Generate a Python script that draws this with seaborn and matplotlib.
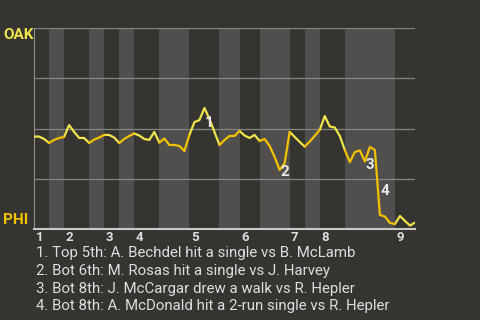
import numpy as np
import pandas as pd
import matplotlib
matplotlib.use("Agg")
import matplotlib.pyplot as plt
import seaborn as sns

# OAK win probability after each plate appearance (index 0 = start)
wp = [0.460, 0.460, 0.448, 0.428, 0.443, 0.453, 0.458, 0.517, 0.483, 0.453,
      0.453, 0.428, 0.445, 0.455, 0.468, 0.468, 0.455, 0.428, 0.448, 0.463,
      0.475, 0.465, 0.448, 0.443, 0.483, 0.430, 0.450, 0.418, 0.418, 0.413,
      0.388, 0.468, 0.532, 0.542, 0.602, 0.547, 0.483, 0.418, 0.443, 0.463,
      0.463, 0.488, 0.465, 0.453, 0.468, 0.438, 0.448, 0.413, 0.358, 0.294,
      0.328, 0.483, 0.458, 0.433, 0.410, 0.435, 0.463, 0.493, 0.562, 0.510,
      0.505, 0.463, 0.393, 0.333, 0.383, 0.391, 0.336, 0.408, 0.393, 0.070,
      0.062, 0.030, 0.025, 0.065, 0.040, 0.017, 0.032]

# plate-appearance index where each half inning starts (last = end of game)
half_bounds = [0, 3, 6, 11, 14, 17, 20, 25, 31, 37, 41, 45, 51, 54, 57, 62, 72, 76]
inning_labels = ["1", "2", "3", "4", "5", "6", "7", "8", "9"]

# key events: index of the plate appearance that ends the event
event_index = [34, 49, 66, 69]
event_labels = ["1", "2", "3", "4"]
event_notes = [
    "1. Top 5th: A. Bechdel hit a single vs B. McLamb",
    "2. Bot 6th: M. Rosas hit a single vs J. Harvey",
    "3. Bot 8th: J. McCargar drew a walk vs R. Hepler",
    "4. Bot 8th: A. McDonald hit a 2-run single vs R. Hepler",
]
teams = ["OAK", "PHI"]

BG = "#353430"
BAND = "#504f4d"
OAK_C = "#efe44c"
PHI_C = "#f2c200"
TXT = "#dedede"

sns.set_theme(style="dark", rc={"axes.facecolor": BG, "figure.facecolor": BG})
plt.rcParams["font.family"] = ["Roboto", "DejaVu Sans"]

rows = []
for h in range(len(half_bounds) - 1):
    side = "top" if h % 2 == 0 else "bot"
    for k in range(half_bounds[h], half_bounds[h + 1] + 1):
        rows.append({"pa": k, "wp": wp[k], "half": h, "side": side})
df = pd.DataFrame(rows)

fig = plt.figure(figsize=(4.8, 3.2), dpi=100, facecolor=BG)
ax = fig.add_axes([34 / 480, (320 - 229) / 320, 381 / 480, 201 / 320])
ax.set_facecolor(BG)

for h in range(1, len(half_bounds) - 1, 2):
    ax.axvspan(half_bounds[h], half_bounds[h + 1], color=BAND, lw=0, zorder=0)

ax.set_yticks([0.25, 0.5, 0.75, 1.0])
ax.yaxis.grid(True, color="#858583", lw=0.9, zorder=1)
ax.xaxis.grid(False)
ax.set_axisbelow(False)

sns.lineplot(data=df, x="pa", y="wp", hue="side", units="half", estimator=None,
             palette={"top": OAK_C, "bot": PHI_C}, legend=False, lw=1.6,
             ax=ax, zorder=3)

ax.set_xlim(half_bounds[0], half_bounds[-1])
ax.set_ylim(0, 1)
ax.set_xlabel("")
ax.set_ylabel("")
ax.tick_params(length=0, labelleft=False, labelbottom=False)
for s in ["top", "right"]:
    ax.spines[s].set_visible(False)
ax.spines["left"].set_color("#8f8f8f")
ax.spines["left"].set_linewidth(0.8)
ax.spines["bottom"].set_color("#c8c8c8")
ax.spines["bottom"].set_linewidth(1.5)

for i, lab in enumerate(inning_labels):
    ax.annotate(lab, xy=(half_bounds[2 * i], 0), xycoords=("data", "axes fraction"),
                xytext=(1.0, -6), textcoords="offset points", ha="left", va="center",
                color=TXT, fontsize=9.5, fontweight="bold")

for k, lab in zip(event_index, event_labels):
    mx = k - 0.5
    my = (wp[k - 1] + wp[k]) / 2
    ax.annotate(lab, xy=(mx, my), xytext=(2.2, -1.2), textcoords="offset points",
                ha="left", va="top", color="#e8e8e8", fontsize=11,
                fontweight="bold", zorder=5)

fig.text(3 / 480, 1 - 35 / 320, teams[0], ha="left", va="center", color=OAK_C,
         fontsize=11, fontweight="bold")
fig.text(3 / 480, 1 - 220 / 320, teams[1], ha="left", va="center", color=PHI_C,
         fontsize=11, fontweight="bold")

for i, note in enumerate(event_notes):
    fig.text(36 / 480, 1 - (253 + 17.8 * i) / 320, note, ha="left", va="center",
             color=TXT, fontsize=10.8)

fig.savefig("out.png", dpi=100, facecolor=BG)
